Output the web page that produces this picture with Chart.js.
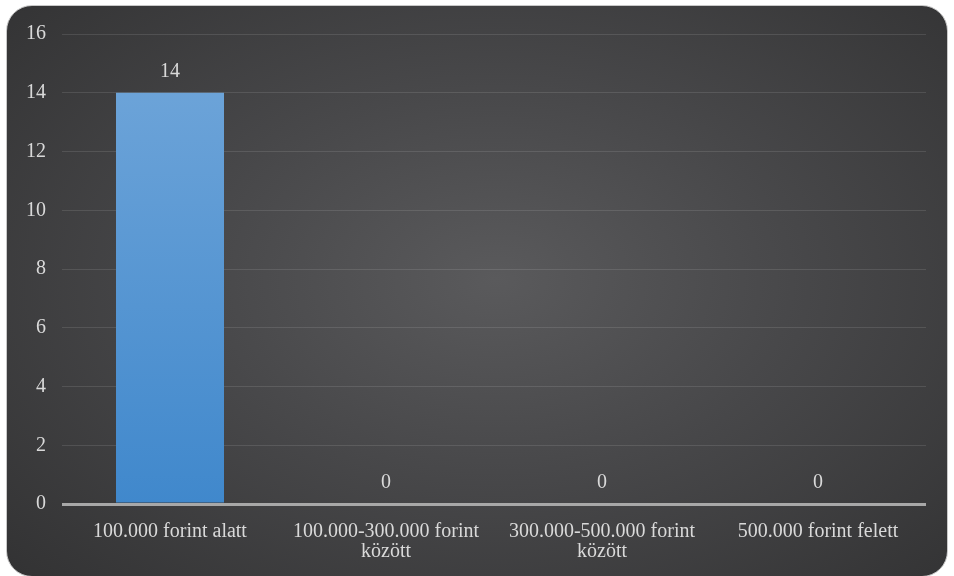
<!DOCTYPE html>
<html>
<head>
<meta charset="utf-8">
<script src="https://cdn.jsdelivr.net/npm/chart.js@4/dist/chart.umd.min.js"></script>
<style>
  html, body { margin: 0; padding: 0; background: #ffffff; }
  #box {
    position: absolute; left: 6px; top: 5px; width: 942px; height: 572px;
    border-radius: 26px; border: 1px solid #c8c8c8; box-sizing: border-box;
    background: radial-gradient(ellipse 70% 75% at 52% 48%, #5a5a5c 0%, #48484a 45%, #333334 100%);
  }
  #wrap { position: absolute; left: 0; top: 0; width: 954px; height: 576px; }
</style>
</head>
<body>
<div id="box"></div>
<div id="wrap"><canvas id="chart"></canvas></div>
<script>
const categories = [
  '100.000 forint alatt',
  ['100.000-300.000 forint', 'között'],
  ['300.000-500.000 forint', 'között'],
  '500.000 forint felett'
];
const values = [14, 0, 0, 0];
const yMax = 16;
const yStep = 2;

const textColor = '#d9d9d9';
const fontFamily = '"Liberation Serif", "Times New Roman", serif';

// value labels above each bar
const valueLabels = {
  id: 'valueLabels',
  afterDatasetsDraw(chart) {
    const ctx = chart.ctx;
    const meta = chart.getDatasetMeta(0);
    ctx.save();
    ctx.fillStyle = textColor;
    ctx.font = '20px ' + fontFamily;
    ctx.textAlign = 'center';
    ctx.textBaseline = 'bottom';
    meta.data.forEach((bar, i) => {
      ctx.fillText(String(values[i]), bar.x, bar.y - 11);
    });
    ctx.restore();
  }
};

new Chart(document.getElementById('chart'), {
  type: 'bar',
  data: {
    labels: categories,
    datasets: [{
      data: values,
      backgroundColor: (c) => {
        const area = c.chart.chartArea;
        if (!area) return '#5b9bd5';
        const g = c.chart.ctx.createLinearGradient(0, area.top, 0, area.bottom);
        g.addColorStop(0, '#72a7da');
        g.addColorStop(1, '#4088cc');
        return g;
      },
      borderWidth: 0,
      categoryPercentage: 1,
      barPercentage: 0.5
    }]
  },
  options: {
    responsive: true,
    maintainAspectRatio: false,
    animation: false,
    layout: { padding: { top: 34, right: 28, bottom: 0, left: 0 } },
    plugins: { legend: { display: false }, tooltip: { enabled: false } },
    scales: {
      x: {
        grid: { display: false },
        border: { display: false },
        ticks: {
          color: textColor,
          font: { family: fontFamily, size: 20, lineHeight: 1.0 },
          padding: 10,
          maxRotation: 0,
          autoSkip: false
        },
        afterFit: (s) => { s.height = 72; }
      },
      y: {
        min: 0,
        max: yMax,
        border: { display: false },
        grid: {
          drawTicks: false,
          color: (c) => c.tick && c.tick.value === 0 ? '#a8a8a8' : 'rgba(255,255,255,0.11)',
          lineWidth: (c) => c.tick && c.tick.value === 0 ? 3 : 1
        },
        ticks: {
          stepSize: yStep,
          color: textColor,
          font: { family: fontFamily, size: 20 },
          padding: 16
        },
        afterFit: (s) => { s.width = 62; }
      }
    }
  },
  plugins: [valueLabels]
});
</script>
</body>
</html>
